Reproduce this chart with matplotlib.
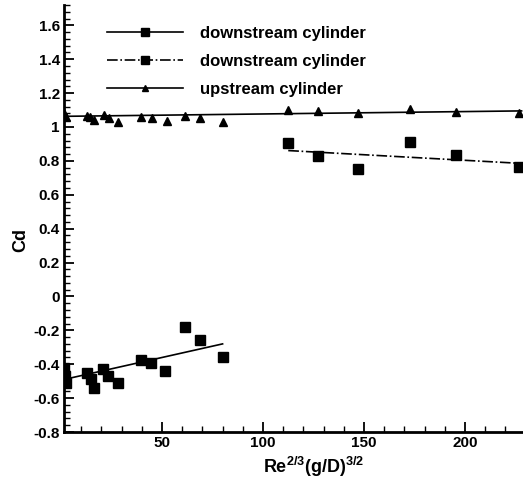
import matplotlib
matplotlib.use("Agg")
import matplotlib.pyplot as plt
from matplotlib.ticker import MultipleLocator, FuncFormatter

plt.rcParams['font.family'] = ['Liberation Sans', 'DejaVu Sans']
plt.rcParams['mathtext.fontset'] = 'custom'
plt.rcParams['mathtext.rm'] = 'Liberation Sans:bold'
plt.rcParams['mathtext.it'] = 'Liberation Sans:bold'
plt.rcParams['mathtext.bf'] = 'Liberation Sans:bold'

# downstream cylinder, small spacing (solid fit)
down_low_x = [1.5, 2.0, 2.5, 12.7, 14.8, 16.5, 21.0, 23.5, 28.0, 39.6, 44.5, 51.6, 61.2, 69.0, 80.0]
down_low_y = [-0.42, -0.47, -0.51, -0.45, -0.49, -0.54, -0.43, -0.47, -0.51, -0.375, -0.395, -0.44, -0.18, -0.255, -0.36]
fit_low_x = [1.5, 80.0]
fit_low_y = [-0.49, -0.28]

# downstream cylinder, large spacing (dash-dot fit)
down_high_x = [112.5, 127.0, 147.0, 172.6, 195.6, 226.6]
down_high_y = [0.908, 0.829, 0.751, 0.914, 0.835, 0.766]
fit_high_x = [112.5, 228.0]
fit_high_y = [0.861, 0.785]

# upstream cylinder
up_x = [1.5, 2.5, 12.7, 14.4, 16.5, 21.4, 23.9, 28.4, 39.6, 44.9, 52.3, 61.4, 68.8, 80.0,
        112.5, 127.0, 147.2, 172.8, 195.5, 226.9]
up_y = [1.084, 1.057, 1.065, 1.057, 1.041, 1.071, 1.051, 1.031, 1.061, 1.051, 1.035, 1.065, 1.051, 1.031,
        1.100, 1.094, 1.081, 1.104, 1.090, 1.081]
fit_up_x = [1.5, 228.0]
fit_up_y = [1.063, 1.095]

labels = ['downstream cylinder', 'downstream cylinder', 'upstream cylinder']

fig = plt.figure(figsize=(5.23, 4.83), dpi=100)
ax = fig.add_axes([64/523, 1-432/483, 1-64/523, (432-5)/483])

ax.plot(down_low_x, down_low_y, 's', color='black', markersize=7, zorder=3)
ax.plot(fit_low_x, fit_low_y, '-', color='black', lw=1.2)
ax.plot(down_high_x, down_high_y, 's', color='black', markersize=7, zorder=3)
ax.plot(fit_high_x, fit_high_y, '-.', color='black', lw=1.2)
ax.plot(up_x, up_y, '^', color='black', markersize=5.5, zorder=3)
ax.plot(fit_up_x, fit_up_y, '-', color='black', lw=1.2)

# legend proxies
h1, = ax.plot([], [], '-s', color='black', markersize=6, lw=1.2)
h2, = ax.plot([], [], '-.s', color='black', markersize=6, lw=1.2)
h3, = ax.plot([], [], '-^', color='black', markersize=4.5, lw=1.2)
leg = fig.legend([h1, h2, h3], labels, loc='upper left', bbox_to_anchor=(107/523, 1-26/483),
                 frameon=False, handlelength=4.55, handletextpad=1.0, labelspacing=0.78,
                 borderpad=0, borderaxespad=0, markerscale=1.0,
                 prop={'weight': 'bold', 'size': 12})

ax.set_xlim(1.5, 228.7)
ax.set_ylim(-0.8, 1.72)
ax.xaxis.set_major_locator(MultipleLocator(50))
ax.xaxis.set_minor_locator(MultipleLocator(10))
ax.yaxis.set_major_locator(MultipleLocator(0.2))
ax.yaxis.set_minor_locator(MultipleLocator(0.04))

def yfmt(v, pos):
    s = ('%.1f' % v)
    if s == '-0.0':
        s = '0'
    if s.endswith('.0'):
        s = s[:-2]
    return s
ax.yaxis.set_major_formatter(FuncFormatter(yfmt))

for s in ['top', 'right']:
    ax.spines[s].set_visible(False)
for s in ['left', 'bottom']:
    ax.spines[s].set_linewidth(2)

ax.tick_params(which='major', direction='in', length=7, width=1.3, labelsize=11, pad=3)
ax.tick_params(which='minor', direction='in', length=4, width=1.0)
for lab in ax.get_xticklabels() + ax.get_yticklabels():
    lab.set_fontweight('bold')

ax.set_ylabel('Cd', fontsize=13, fontweight='bold', labelpad=4)
ax.yaxis.set_label_coords(-0.075, (432-240)/427)
ax.set_xlabel(r'Re$^{2/3}$(g/D)$^{3/2}$', fontsize=13, fontweight='bold', labelpad=2)
ax.xaxis.set_label_coords((314-64)/459, -0.054)

fig.savefig('out.png', dpi=100)
